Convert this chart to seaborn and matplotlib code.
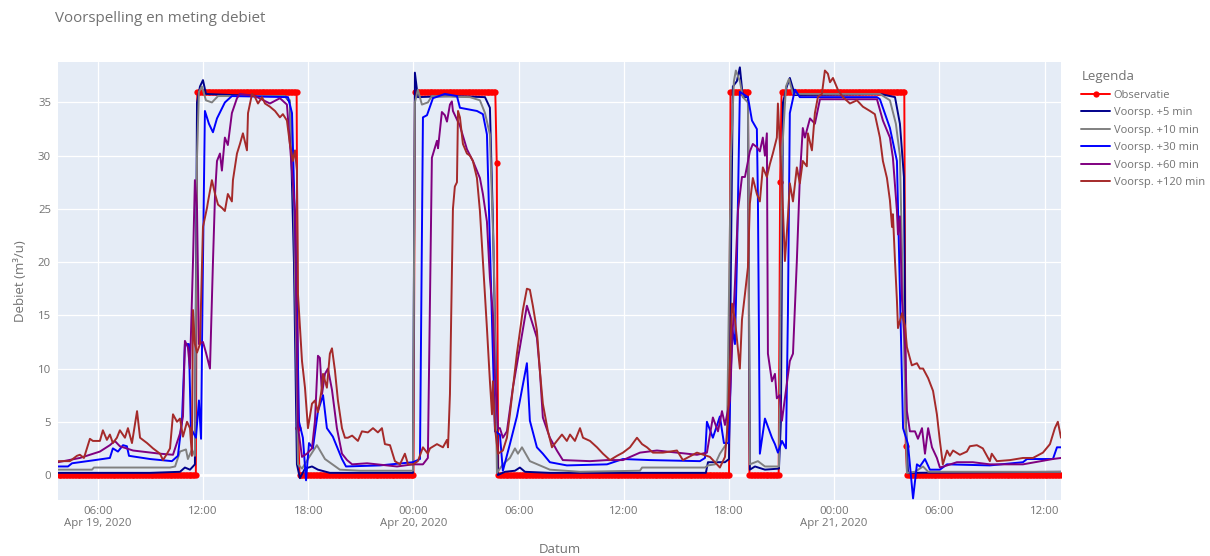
import pandas as pd
import matplotlib
matplotlib.use("Agg")
import matplotlib.pyplot as plt
import seaborn as sns

# ------------------------------------------------------------
# data
# ------------------------------------------------------------
day0 = pd.Timestamp("2020-04-19 00:00")

# observation: 5-minute samples, given as runs of a constant level
obs_start = ["2020-04-19 03:45", "2020-04-19 11:40", "2020-04-19 17:25", "2020-04-19 17:30",
             "2020-04-20 00:05", "2020-04-20 04:45", "2020-04-20 04:50", "2020-04-20 18:05",
             "2020-04-20 19:10", "2020-04-20 20:55", "2020-04-20 21:00", "2020-04-21 04:05",
             "2020-04-21 04:10"]
obs_end = ["2020-04-19 11:35", "2020-04-19 17:20", "2020-04-19 17:25", "2020-04-20 00:00",
           "2020-04-20 04:40", "2020-04-20 04:45", "2020-04-20 18:00", "2020-04-20 19:05",
           "2020-04-20 20:50", "2020-04-20 20:55", "2020-04-21 04:00", "2020-04-21 04:05",
           "2020-04-21 12:55"]
obs_level = [0, 36, 4.4, 0, 36, 29.3, 0, 36, 0, 27.5, 36, 2.7, 0]

# forecasts: hours since 2020-04-19 00:00 and debiet (m3/u)
h_5 = [3.72, 8.97, 10.68, 10.96, 11.25, 11.42, 11.53, 11.65, 11.82, 11.99, 12.16, 13.53, 15.24,
       16.67, 16.95, 17.18, 17.35, 17.52, 17.81, 18.21, 18.55, 19.23, 23.97, 24.08, 24.25, 26.08,
       28.08, 28.36, 28.53, 28.70, 28.82, 29.22, 29.79, 30.07, 30.36, 31.78, 40.68, 40.80, 41.77,
       42.00, 42.11, 42.22, 42.45, 42.62, 42.79, 43.08, 43.19, 43.48, 44.05, 44.85, 44.96, 45.08,
       45.30, 45.47, 45.76, 50.61, 51.47, 51.75, 51.98, 52.09, 52.21, 60.94]
v_5 = [0.2, 0.2, 0.3, 0.7, 0.5, 0.8, 1.0, 35.0, 36.5, 37.1, 35.8, 35.7, 35.6,
       35.6, 35.0, 20.0, 1.0, -0.3, 0.6, 0.8, 0.5, 0.2, 0.2, 37.8, 35.5, 35.6,
       35.5, 34.5, 24.0, 10.0, 0.0, 0.3, 0.4, 0.7, 0.3, 0.2, 0.2, 1.2, 1.2,
       1.5, 20.0, 36.5, 37.0, 38.3, 35.5, 35.5, 0.5, 0.8, 0.5, 0.6, 5.0, 35.0,
       36.5, 37.3, 35.7, 35.8, 35.5, 33.0, 28.0, 5.0, 0.2, 0.3]

h_10 = [3.72, 5.66, 5.77, 10.11, 10.40, 10.68, 11.02, 11.13, 11.36, 11.53, 11.65, 11.76, 11.93,
        12.16, 12.50, 12.85, 16.67, 16.95, 17.18, 17.41, 17.64, 17.98, 18.49, 18.95, 19.80, 20.95,
        23.97, 24.08, 24.25, 24.48, 24.82, 25.05, 27.22, 27.79, 28.08, 28.36, 28.59, 28.76, 29.10,
        29.50, 29.79, 29.96, 30.19, 30.64, 31.78, 33.50, 36.92, 37.04, 40.63, 40.80, 41.20, 41.48,
        41.88, 42.11, 42.28, 42.39, 42.62, 42.79, 43.08, 43.19, 43.65, 44.05, 44.85, 45.02, 45.25,
        45.42, 45.65, 50.61, 51.18, 51.52, 51.75, 52.04, 52.15, 52.61, 53.07, 53.36, 60.94]
v_10 = [0.5, 0.5, 0.7, 0.7, 0.8, 2.2, 2.4, 1.5, 2.4, 1.8, 30.0, 36.0, 36.5,
        35.2, 35.0, 35.6, 35.6, 35.2, 25.0, 1.0, 0.6, 1.5, 2.8, 1.5, 0.5, 0.4,
        0.4, 35.0, 36.2, 34.8, 35.0, 35.6, 35.5, 35.2, 34.0, 32.0, 20.0, 0.2, 1.0,
        1.6, 2.5, 2.0, 2.6, 1.3, 0.5, 0.3, 0.4, 0.7, 0.7, 0.9, 1.0, 2.0,
        3.0, 30.0, 37.0, 38.0, 37.0, 35.5, 35.0, 1.0, 1.3, 0.8, 0.8, 30.0, 36.5,
        37.2, 35.8, 35.8, 35.2, 33.0, 30.0, 8.0, 0.2, 0.3, 0.8, 0.3, 0.3]

h_30 = [3.72, 4.29, 4.52, 5.83, 6.68, 6.85, 7.14, 7.43, 7.65, 7.77, 8.97, 10.22, 10.56, 10.79,
        10.96, 11.19, 11.30, 11.59, 11.76, 11.88, 11.99, 12.10, 12.33, 12.56, 12.79, 13.24, 13.64,
        16.84, 17.07, 17.30, 17.47, 17.69, 17.87, 18.04, 18.26, 18.55, 18.84, 19.06, 19.40, 19.92,
        20.15, 22.09, 23.97, 24.37, 24.54, 24.77, 25.11, 25.79, 26.48, 26.65, 27.62, 27.96, 28.19,
        28.42, 28.65, 28.93, 29.10, 29.50, 29.90, 30.30, 30.47, 30.64, 31.04, 31.38, 31.78, 32.75,
        35.04, 35.95, 37.49, 40.34, 40.63, 40.74, 41.08, 41.48, 41.71, 42.00, 42.17, 42.34, 42.45,
        42.62, 43.08, 43.31, 43.59, 43.65, 43.76, 44.05, 44.45, 44.62, 44.79, 45.02, 45.25, 45.36,
        45.47, 45.76, 46.04, 50.44, 50.61, 51.18, 51.58, 51.93, 52.21, 52.50, 52.72, 52.89, 53.18,
        53.46, 54.03, 54.44, 56.88, 58.77, 59.00, 60.48, 60.71, 60.94]
v_30 = [0.8, 0.8, 1.1, 1.4, 1.6, 2.5, 2.2, 2.8, 2.7, 1.8, 1.5, 1.3, 1.8, 5.0,
        12.3, 12.3, 4.4, 3.5, 7.0, 3.4, 20.0, 34.2, 33.0, 32.2, 33.5, 35.0, 35.6,
        35.5, 34.0, 20.0, 5.0, 3.5, -0.5, 3.0, 2.5, 6.0, 7.5, 4.4, 3.6, 1.5,
        0.8, 0.9, 1.2, 1.5, 33.6, 33.8, 35.4, 35.8, 35.6, 34.5, 34.2, 33.9, 32.0,
        18.0, 4.1, 3.8, 0.4, 2.9, 5.5, 9.0, 10.5, 5.1, 2.6, 2.0, 1.2, 0.9,
        1.0, 1.5, 1.4, 1.3, 1.6, 5.0, 3.5, 5.5, 3.0, 3.0, 13.8, 12.3, 20.0,
        36.0, 35.5, 33.3, 32.5, 25.8, 2.0, 5.3, 3.5, 2.9, 2.1, 3.2, 2.5, 15.0,
        34.0, 36.2, 35.5, 35.5, 35.3, 32.6, 29.5, 4.4, 2.9, -2.2, 1.0, 0.8, 1.5,
        0.5, 0.5, 1.0, 0.9, 1.2, 1.5, 1.5, 2.6, 2.6]

h_60 = [3.72, 4.97, 6.11, 6.68, 6.96, 7.25, 8.00, 9.54, 10.28, 10.68, 10.85, 10.96, 11.13, 11.25,
        11.42, 11.53, 11.65, 11.76, 11.99, 12.16, 12.39, 12.56, 12.68, 12.79, 12.96, 13.07, 13.24,
        13.41, 13.64, 13.93, 14.10, 14.96, 15.81, 16.38, 16.78, 16.95, 17.24, 17.41, 17.64, 17.92,
        18.21, 18.38, 18.55, 18.66, 18.78, 18.95, 19.12, 19.35, 19.63, 19.92, 20.21, 20.50, 21.35,
        23.06, 23.97, 24.54, 24.82, 25.05, 25.34, 25.40, 25.62, 25.79, 25.91, 26.08, 26.19, 26.25,
        26.65, 27.05, 27.39, 27.79, 27.96, 28.19, 28.36, 28.53, 28.65, 28.82, 28.93, 29.10, 29.33,
        29.67, 30.07, 30.47, 30.64, 31.04, 31.21, 31.38, 31.78, 32.18, 32.52, 34.07, 35.04, 35.95,
        36.92, 37.89, 39.03, 40.17, 40.74, 41.08, 41.37, 41.60, 41.77, 42.05, 42.22, 42.34, 42.51,
        42.74, 42.91, 43.19, 43.36, 43.59, 43.76, 43.93, 44.05, 44.16, 44.22, 44.45, 44.62, 44.73,
        44.90, 45.02, 45.25, 45.47, 45.65, 45.87, 46.04, 46.21, 46.33, 46.62, 46.90, 47.19, 50.44,
        50.78, 51.18, 51.35, 51.58, 51.64, 51.75, 51.87, 52.04, 52.15, 52.32, 52.61, 52.78, 53.01,
        53.18, 53.36, 53.58, 53.86, 54.03, 54.44, 55.00, 55.91, 56.88, 58.77, 60.48, 60.94]
v_60 = [1.2, 1.6, 2.2, 2.8, 3.2, 2.7, 2.3, 2.0, 1.9, 3.9, 5.5, 12.6, 12.0, 10.0,
        20.0, 27.7, 25.0, 12.3, 12.5, 11.5, 10.0, 20.0, 26.4, 29.5, 30.2, 28.6, 31.7,
        31.0, 34.0, 35.4, 35.8, 35.6, 34.9, 35.4, 34.8, 31.1, 24.8, 4.5, 1.7, 2.0,
        2.5, 5.1, 11.2, 11.0, 7.6, 9.5, 10.0, 8.0, 4.4, 2.0, 1.4, 1.0, 1.1,
        0.8, 1.0, 1.0, 1.6, 29.8, 31.4, 30.7, 34.1, 33.8, 33.2, 34.8, 35.1, 34.2,
        32.8, 30.6, 29.5, 27.9, 26.4, 23.8, 18.5, 15.2, 9.2, 4.4, 4.4, 3.5, 4.1,
        8.2, 12.0, 15.9, 15.0, 12.9, 9.8, 5.4, 3.5, 2.3, 1.4, 1.3, 1.4, 1.4,
        2.1, 2.3, 2.1, 1.9, 2.1, 5.4, 4.1, 6.0, 4.7, 7.0, 13.8, 18.0, 24.8,
        28.0, 28.0, 30.4, 31.1, 30.8, 30.4, 31.7, 30.0, 32.1, 11.4, 8.8, 9.5, 7.2,
        7.5, 5.1, 8.0, 10.7, 11.4, 20.1, 27.9, 32.6, 31.7, 33.5, 33.0, 35.3, 35.3,
        33.3, 31.7, 29.8, 24.8, 22.6, 24.3, 16.4, 12.3, 6.0, 4.1, 4.1, 3.4, 4.4,
        2.0, 4.4, 2.6, 1.6, 0.7, 0.9, 1.2, 1.2, 1.0, 1.0, 1.5, 1.6]

h_120 = [3.72, 4.40, 4.80, 4.97, 5.20, 5.54, 5.71, 6.11, 6.28, 6.51, 6.68, 6.85, 7.08, 7.25,
         7.54, 7.71, 7.94, 8.23, 8.40, 8.80, 9.14, 9.54, 9.71, 9.94, 10.11, 10.28, 10.51, 10.68,
         10.85, 11.08, 11.25, 11.36, 11.42, 11.53, 11.65, 11.82, 11.99, 12.22, 12.28, 12.50, 12.68,
         12.85, 13.07, 13.24, 13.41, 13.64, 13.70, 13.93, 14.10, 14.27, 14.50, 14.56, 14.79, 14.96,
         15.13, 15.36, 15.53, 15.81, 16.10, 16.38, 16.55, 16.78, 16.95, 17.12, 17.24, 17.35, 17.41,
         17.64, 17.81, 17.98, 18.21, 18.38, 18.55, 18.78, 18.84, 19.06, 19.23, 19.35, 19.52, 19.69,
         19.92, 20.09, 20.26, 20.50, 20.83, 21.06, 21.40, 21.69, 21.97, 22.20, 22.37, 22.66, 22.94,
         23.23, 23.51, 23.69, 23.97, 24.25, 24.54, 24.82, 24.94, 25.34, 25.68, 25.91, 25.97, 26.08,
         26.25, 26.36, 26.48, 26.54, 26.65, 26.82, 27.05, 27.22, 27.39, 27.62, 27.79, 27.96, 28.19,
         28.36, 28.48, 28.53, 28.65, 28.82, 29.10, 29.33, 29.50, 29.90, 30.24, 30.47, 30.64, 30.81,
         31.04, 31.21, 31.38, 31.67, 31.90, 32.18, 32.47, 32.75, 32.93, 33.21, 33.50, 33.67, 34.07,
         34.47, 34.81, 35.21, 35.61, 35.95, 36.35, 36.75, 37.04, 37.32, 37.66, 38.23, 39.03, 39.37,
         40.17, 40.91, 41.48, 41.77, 41.94, 42.17, 42.34, 42.62, 42.74, 42.91, 43.08, 43.19, 43.36,
         43.59, 43.76, 43.93, 44.16, 44.33, 44.50, 44.73, 44.79, 44.90, 45.02, 45.19, 45.36, 45.47,
         45.65, 45.87, 46.04, 46.21, 46.44, 46.50, 46.73, 46.90, 47.07, 47.30, 47.47, 47.64, 47.76,
         47.93, 48.21, 48.50, 48.90, 49.30, 49.64, 50.04, 50.32, 50.61, 50.78, 51.01, 51.18, 51.30,
         51.35, 51.47, 51.58, 51.64, 51.87, 52.04, 52.15, 52.43, 52.72, 52.89, 53.07, 53.36, 53.64,
         53.86, 54.03, 54.20, 54.44, 54.60, 54.78, 55.17, 55.57, 55.74, 56.14, 56.48, 56.88, 56.99,
         57.28, 58.03, 58.77, 59.34, 59.91, 60.31, 60.59, 60.76, 60.94]
v_120 = [1.3, 1.3, 1.8, 1.9, 1.6, 3.4, 3.2, 3.2, 4.2, 3.3, 3.8, 3.0, 3.5, 4.2,
         3.5, 4.4, 3.0, 6.0, 3.5, 3.0, 2.5, 2.0, 1.4, 2.0, 2.5, 5.7, 5.0, 5.3,
         3.6, 5.0, 4.4, 1.8, 15.5, 12.3, 11.5, 12.3, 23.3, 25.1, 25.7, 27.7, 26.4,
         25.4, 25.1, 24.8, 26.4, 25.7, 27.7, 30.2, 31.1, 32.1, 30.5, 34.0, 35.8, 35.5,
         34.9, 35.5, 34.9, 34.6, 34.2, 33.6, 33.9, 33.3, 31.1, 29.5, 30.5, 28.6, 17.0,
         10.7, 8.2, 4.4, 6.7, 7.0, 5.9, 8.2, 9.5, 8.2, 11.4, 11.9, 9.8, 7.0,
         4.4, 3.5, 3.5, 3.7, 3.2, 4.1, 4.0, 4.4, 4.0, 4.4, 2.9, 2.8, 1.3,
         1.0, 2.0, 1.0, 1.0, 1.3, 2.6, 2.0, 2.5, 2.9, 2.6, 3.3, 2.6, 7.6,
         25.0, 27.1, 27.5, 34.2, 33.6, 31.1, 30.2, 30.0, 29.5, 27.9, 24.8, 20.1, 13.8,
         8.8, 5.7, 8.8, 4.4, 2.0, 2.3, 3.5, 5.7, 11.4, 15.5, 17.5, 17.4, 15.9,
         13.6, 9.8, 6.7, 4.1, 2.6, 3.2, 3.8, 3.2, 3.8, 3.2, 4.4, 3.5, 3.2,
         2.6, 2.0, 1.4, 1.8, 2.1, 2.6, 3.5, 2.9, 2.6, 2.1, 2.1, 2.3, 1.4,
         2.1, 1.7, 0.7, 1.7, 5.1, 16.1, 14.6, 10.0, 14.6, 17.0, 19.5, 25.5, 27.9,
         26.4, 25.7, 28.9, 28.0, 29.2, 30.2, 31.7, 34.9, 31.1, 27.4, 20.1, 24.2, 27.4,
         25.7, 28.9, 27.4, 29.5, 29.0, 32.1, 30.5, 34.0, 35.5, 35.8, 38.0, 37.7, 36.9,
         37.3, 36.2, 35.5, 34.9, 35.2, 34.6, 34.2, 33.9, 31.7, 29.5, 27.9, 25.8, 23.3,
         24.5, 20.1, 16.4, 13.8, 15.2, 14.0, 12.0, 10.3, 10.5, 10.0, 10.0, 9.1, 7.9,
         5.7, 3.2, 1.0, 2.3, 1.8, 2.3, 1.9, 2.2, 2.7, 2.8, 2.5, 1.3, 2.0,
         1.3, 1.4, 1.6, 1.6, 2.1, 2.9, 4.4, 5.0, 3.5]

series_names = ["Voorsp. +5 min", "Voorsp. +10 min", "Voorsp. +30 min",
                "Voorsp. +60 min", "Voorsp. +120 min"]
series_hours = [h_5, h_10, h_30, h_60, h_120]
series_values = [v_5, v_10, v_30, v_60, v_120]
series_colors = ["darkblue", "gray", "blue", "purple", "brown"]

tick_hours = [6, 12, 18, 24, 30, 36, 42, 48, 54, 60]
tick_labels = ["06:00\nApr 19, 2020", "12:00", "18:00", "00:00\nApr 20, 2020", "06:00",
               "12:00", "18:00", "00:00\nApr 21, 2020", "06:00", "12:00"]


def to_time(hours):
    return day0 + pd.to_timedelta(pd.Series(hours, dtype=float), unit="h")


# ------------------------------------------------------------
# build frames
# ------------------------------------------------------------
parts = []
for s, e, lvl in zip(obs_start, obs_end, obs_level):
    t = pd.date_range(s, e, freq="5min")
    parts.append(pd.DataFrame({"Datum": t, "Debiet": float(lvl)}))
obs = pd.concat(parts, ignore_index=True)

# ------------------------------------------------------------
# plot
# ------------------------------------------------------------
text_col = "#727272"
sns.set_style("darkgrid", {"axes.facecolor": "#E5ECF6", "grid.color": "white",
                           "axes.edgecolor": "#E5ECF6"})
plt.rcParams["font.family"] = ["Open Sans", "DejaVu Sans"]

fig = plt.figure(figsize=(12.1, 5.56), dpi=100)
ax = fig.add_axes([58 / 1210, 1 - 500 / 556, (1061 - 58) / 1210, (500 - 62) / 556])

ax.axhline(0, color="white", lw=2, zorder=0.5)

sns.lineplot(data=obs, x="Datum", y="Debiet", color="red", lw=1.4, marker="o",
             markersize=4.5, markeredgewidth=0, estimator=None, label="Observatie", ax=ax)
for name, hrs, vals, col in zip(series_names, series_hours, series_values, series_colors):
    df = pd.DataFrame({"Datum": to_time(hrs), "Debiet": vals})
    sns.lineplot(data=df, x="Datum", y="Debiet", color=col, lw=1.4, estimator=None,
                 sort=False, label=name, ax=ax)

ax.set_xlim(to_time([3.72])[0], to_time([60.94])[0])
ax.set_ylim(-2.35, 38.8)
ax.set_xticks(to_time(tick_hours))
ax.set_xticklabels(tick_labels)
ax.set_yticks(range(0, 36, 5))
ax.tick_params(length=0, colors=text_col, labelsize=8.2)
ax.tick_params(axis="x", pad=4)
ax.tick_params(axis="y", pad=5)
ax.grid(True, color="white", lw=0.9)
for sp in ax.spines.values():
    sp.set_visible(False)

ax.set_xlabel("Datum", color=text_col, fontsize=9.5, labelpad=10)
ax.set_ylabel("Debiet (m³/u)", color=text_col, fontsize=9.5, labelpad=8)

fig.text(55 / 1210, 1 - 18 / 556, "Voorspelling en meting debiet", color=text_col,
         fontsize=10.9, va="center", ha="left")

handles, labels = ax.get_legend_handles_labels()
ax.get_legend().remove()
leg = fig.legend(handles, labels, title="Legenda", loc="upper left",
                 bbox_to_anchor=(1077 / 1210, 1 - 66 / 556), frameon=False,
                 fontsize=8, title_fontsize=9.5, handlelength=2.6, handletextpad=0.3,
                 labelspacing=0.58, alignment="left", labelcolor=text_col, borderaxespad=0)
leg.get_title().set_color(text_col)

fig.savefig("out.png", dpi=100)
